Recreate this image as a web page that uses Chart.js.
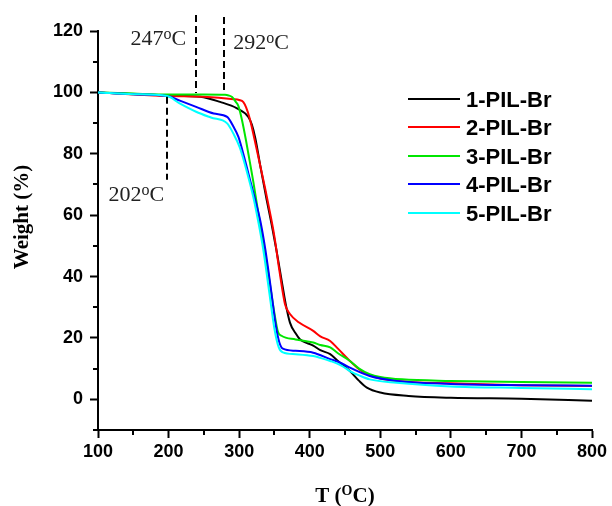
<!DOCTYPE html>
<html><head><meta charset="utf-8">
<script src="https://cdn.jsdelivr.net/npm/chart.js@4/dist/chart.umd.min.js"></script>
<style>html,body{margin:0;padding:0;background:#fff;} #wrap{width:612px;height:506px;}</style>
</head><body><div id="wrap"><canvas id="c" width="612" height="506"></canvas></div>
<script>
// ---- data ----
const seriesLabels = ['1-PIL-Br', '2-PIL-Br', '3-PIL-Br', '4-PIL-Br', '5-PIL-Br'];

const temp1   = [100, 150, 200, 245, 273, 297, 313, 318, 323, 330, 339, 346, 353, 360, 366, 372, 380, 386, 405, 415, 429, 440, 457, 470, 481, 500, 540, 600, 700, 800];
const weight1 = [100, 99.5, 99, 98.6, 96.9, 94.8, 92, 89.5, 85, 76, 65, 57, 48.4, 39, 31, 25, 21.5, 19.6, 17.5, 16, 14.7, 12.5, 9.2, 6, 3.8, 2.2, 1.1, 0.5, 0.2, -0.5];

const temp2   = [100, 150, 200, 250, 292, 300, 306, 310, 315, 322, 330, 337, 344, 350, 357, 365, 372, 385, 405, 415, 429, 440, 457, 470, 481, 500, 523, 600, 700, 800];
const weight2 = [100, 99.3, 98.8, 98.6, 97.8, 97.5, 96.8, 95, 91.5, 84.5, 76, 68.5, 60.5, 53, 42, 31, 27.8, 25, 22.3, 20.5, 19, 16.5, 12.5, 9.8, 8.2, 6.8, 6, 5.2, 4.6, 4.3];

const temp3   = [100, 150, 200, 250, 280, 285, 290, 295, 299, 304, 310, 315, 320, 327, 334, 342, 350, 355, 360, 380, 405, 415, 429, 440, 457, 470, 485, 500, 531, 600, 700, 800];
const weight3 = [100, 99.6, 99.3, 99.3, 99.2, 99, 98.5, 97, 95.5, 91, 84, 77.5, 71, 61, 51.7, 40, 28, 22, 20.7, 19.5, 18.5, 17.7, 16.9, 15, 12.5, 10, 8.2, 7.3, 6.5, 6, 5.6, 5.4];

const temp4   = [100, 150, 198, 216, 239, 264, 283, 292, 299, 307, 316, 325, 331, 337, 345, 352, 357, 362, 380, 405, 429, 445, 457, 485, 523, 600, 700, 800];
const weight4 = [100, 99.4, 98.8, 97.3, 95.3, 93.1, 92, 88.8, 85.5, 79, 71, 63, 57, 49, 36, 24, 18.5, 16.5, 15.8, 15.2, 13.1, 11.8, 10.3, 7.6, 6, 5, 4.6, 4.4];

const temp5   = [100, 150, 198, 215, 239, 260, 283, 292, 301, 310, 320, 327, 334, 342, 350, 356, 362, 380, 405, 415, 429, 445, 457, 470, 485, 523, 600, 700, 800];
const weight5 = [100, 99.4, 98.8, 96.5, 93.7, 91.8, 89.9, 86.5, 82, 75, 66, 58, 49, 36, 23, 17, 15.3, 14.7, 14.1, 13.5, 12.5, 11, 9.2, 7.8, 6.5, 5.4, 4.2, 3.7, 3.3];

const xTickValues = [100, 200, 300, 400, 500, 600, 700, 800];
const xMinorValues = [150, 250, 350, 450, 550, 650, 750];
const yTickValues = [0, 20, 40, 60, 80, 100, 120];
const yMinorValues = [-10, 10, 30, 50, 70, 90, 110];

// onset markers: where the dashed line stands on the axis, its value range, and its label
const markerTemps  = [239, 279, 198];
const markerTop    = [125.2, 124.6, 98.6];
const markerBottom = [99.8, 99.8, 71.5];
const markerText   = ['247', '292', '202'];

// ---- styles ----
const seriesColors = ['#000000', '#ff0000', '#00e600', '#0000ff', '#00ffff'];

function pts(xs, ys) { return xs.map((x, i) => ({x: x, y: ys[i]})); }
const temps = [temp1, temp2, temp3, temp4, temp5];
const weights = [weight1, weight2, weight3, weight4, weight5];

const datasets = seriesLabels.map((lab, i) => ({
  label: lab,
  data: pts(temps[i], weights[i]),
  borderColor: seriesColors[i],
  backgroundColor: seriesColors[i],
  borderWidth: 2,
  pointRadius: 0,
  fill: false,
  cubicInterpolationMode: 'monotone',
  order: 5 - i
}));

function drawDeg(ctx, x, y, num, align) {
  const big = '22px "Liberation Serif", "Times New Roman", serif';
  const small = '16px "Liberation Serif", "Times New Roman", serif';
  ctx.font = big; const w1 = ctx.measureText(num).width; const w3 = ctx.measureText('C').width;
  ctx.font = small; const w2 = ctx.measureText('o').width;
  const total = w1 + w2 + w3;
  let sx = align === 'right' ? x - total : x;
  ctx.textAlign = 'left'; ctx.textBaseline = 'alphabetic';
  ctx.font = big; ctx.fillText(num, sx, y);
  ctx.font = small; ctx.fillText('o', sx + w1, y - 6);
  ctx.font = big; ctx.fillText('C', sx + w1 + w2, y);
}

const decor = {
  id: 'decor',
  afterDraw(chart) {
    const ctx = chart.ctx, xs = chart.scales.x, ys = chart.scales.y;
    const area = chart.chartArea;
    ctx.save();
    ctx.strokeStyle = '#000'; ctx.lineWidth = 2;
    xMinorValues.forEach(v => {
      const px = Math.round(xs.getPixelForValue(v));
      ctx.beginPath(); ctx.moveTo(px, area.bottom); ctx.lineTo(px, area.bottom + 5); ctx.stroke();
    });
    yMinorValues.forEach(v => {
      const py = Math.round(ys.getPixelForValue(v));
      ctx.beginPath(); ctx.moveTo(area.left, py); ctx.lineTo(area.left - 5, py); ctx.stroke();
    });
    ctx.setLineDash([7, 4]); ctx.lineWidth = 2; ctx.strokeStyle = '#000';
    markerTemps.forEach((t, i) => {
      const px = Math.round(xs.getPixelForValue(t));
      ctx.beginPath();
      ctx.moveTo(px, ys.getPixelForValue(markerTop[i]));
      ctx.lineTo(px, ys.getPixelForValue(markerBottom[i]));
      ctx.stroke();
    });
    ctx.setLineDash([]);
    ctx.fillStyle = '#222';
    const p0 = xs.getPixelForValue(markerTemps[0]);
    drawDeg(ctx, p0 - 10, 45, markerText[0], 'right');
    const p1 = xs.getPixelForValue(markerTemps[1]);
    drawDeg(ctx, p1 + 9, 49, markerText[1], 'left');
    const p2 = xs.getPixelForValue(markerTemps[2]);
    drawDeg(ctx, p2 - 3, 201, markerText[2], 'right');

    ctx.fillStyle = '#000';
    chart.data.datasets.forEach((ds, i) => {
      const y = 99 + i * 28.4;
      ctx.strokeStyle = ds.borderColor; ctx.lineWidth = 2;
      ctx.beginPath(); ctx.moveTo(408, Math.round(y)); ctx.lineTo(460, Math.round(y)); ctx.stroke();
      ctx.font = 'bold 22px "Liberation Sans", Arial, sans-serif';
      ctx.textAlign = 'left'; ctx.textBaseline = 'alphabetic';
      ctx.fillText(ds.label, 466, y + 8);
    });

    ctx.fillStyle = '#000';
    ctx.save();
    ctx.translate(23, 217); ctx.rotate(-Math.PI / 2);
    ctx.font = 'bold 21px "Liberation Serif", "Times New Roman", serif';
    ctx.textAlign = 'center'; ctx.textBaseline = 'middle';
    ctx.fillText('Weight (%)', 0, 0);
    ctx.restore();

    const big = 'bold 21px "Liberation Serif", "Times New Roman", serif';
    const small = 'bold 14px "Liberation Serif", "Times New Roman", serif';
    ctx.font = big; const a = ctx.measureText('T (').width, c = ctx.measureText('C)').width;
    ctx.font = small; const b = ctx.measureText('O').width;
    const cx = (area.left + area.right) / 2, base = 502;
    let sx = cx - (a + b + c) / 2;
    ctx.textAlign = 'left'; ctx.textBaseline = 'alphabetic';
    ctx.font = big; ctx.fillText('T (', sx, base);
    ctx.font = small; ctx.fillText('O', sx + a, base - 7);
    ctx.font = big; ctx.fillText('C)', sx + a + b, base);
    ctx.restore();
  }
};

const whiteBg = {
  id: 'whiteBg',
  beforeDraw(chart) { const c = chart.ctx; c.save(); c.fillStyle = '#fff'; c.fillRect(0, 0, chart.width, chart.height); c.restore(); }
};

new Chart(document.getElementById('c'), {
  type: 'line',
  data: { datasets: datasets },
  options: {
    responsive: false,
    devicePixelRatio: 1,
    animation: false,
    layout: { padding: { left: 0, right: 20, top: 31, bottom: 0 } },
    plugins: { legend: { display: false }, tooltip: { enabled: false } },
    scales: {
      x: {
        type: 'linear', min: 100, max: 800,
        afterFit(s) { s.height = 76; },
        afterBuildTicks(s) { s.ticks = xTickValues.map(v => ({value: v})); },
        grid: { display: true, drawOnChartArea: false, drawTicks: true, tickLength: 8, tickWidth: 2, tickColor: '#000' },
        border: { display: true, color: '#000', width: 2 },
        ticks: { color: '#000', padding: 3, maxRotation: 0, font: { family: '"Liberation Sans", Arial, sans-serif', size: 18, weight: 'bold' } },
        title: { display: false }
      },
      y: {
        type: 'linear', min: -10, max: 120,
        afterFit(s) { s.width = 98; },
        afterBuildTicks(s) { s.ticks = yTickValues.map(v => ({value: v})); },
        grid: { display: true, drawOnChartArea: false, drawTicks: true, tickLength: 8, tickWidth: 2, tickColor: '#000' },
        border: { display: true, color: '#000', width: 2 },
        ticks: { color: '#000', padding: 7, font: { family: '"Liberation Sans", Arial, sans-serif', size: 18, weight: 'bold' } },
        title: { display: false }
      }
    }
  },
  plugins: [whiteBg, decor]
});
</script>
</body></html>
